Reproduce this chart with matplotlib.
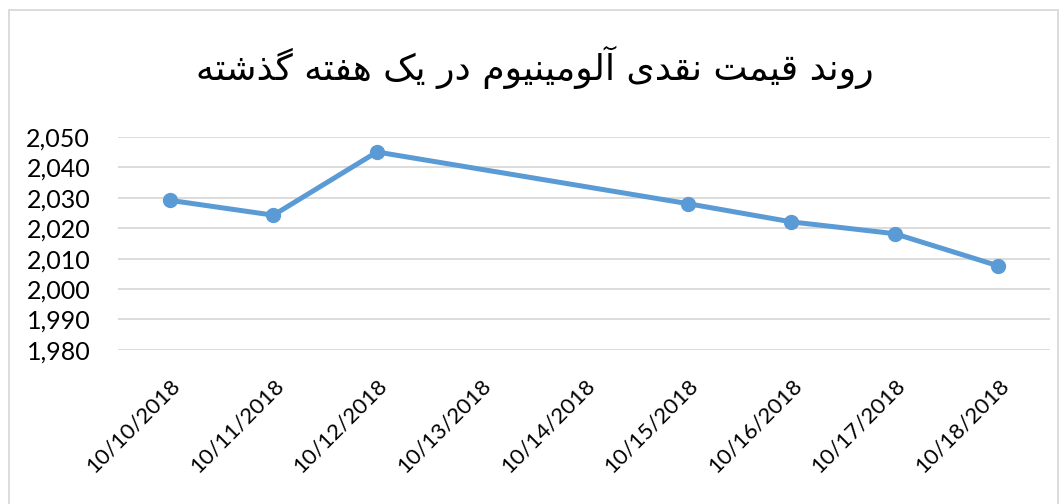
import numpy as np
import matplotlib
matplotlib.use("Agg")
from matplotlib import pyplot as plt
from matplotlib.patches import Rectangle

# data
dates = ["10/10/2018", "10/11/2018", "10/12/2018", "10/13/2018", "10/14/2018",
         "10/15/2018", "10/16/2018", "10/17/2018", "10/18/2018"]
prices = [2029.2, 2024.3, 2045.1, None, None, 2028.1, 2022.1, 2018.2, 2007.6]
yticks = [1980, 1990, 2000, 2010, 2020, 2030, 2040, 2050]

title = "روند قیمت نقدی آلومینیوم در یک هفته گذشته"

# small arabic/persian shaper (matplotlib does not join letters or do RTL)
# letter: (isolated, final, initial, medial) ; two-form letters only join to the right
forms = {
    "ا": ("\uFE8D", "\uFE8E"), "آ": ("\uFE81", "\uFE82"),
    "د": ("\uFEA9", "\uFEAA"), "ذ": ("\uFEAB", "\uFEAC"),
    "ر": ("\uFEAD", "\uFEAE"), "و": ("\uFEED", "\uFEEE"),
    "ت": ("\uFE95", "\uFE96", "\uFE97", "\uFE98"),
    "ش": ("\uFEB5", "\uFEB6", "\uFEB7", "\uFEB8"),
    "ف": ("\uFED1", "\uFED2", "\uFED3", "\uFED4"),
    "ق": ("\uFED5", "\uFED6", "\uFED7", "\uFED8"),
    "ل": ("\uFEDD", "\uFEDE", "\uFEDF", "\uFEE0"),
    "م": ("\uFEE1", "\uFEE2", "\uFEE3", "\uFEE4"),
    "ن": ("\uFEE5", "\uFEE6", "\uFEE7", "\uFEE8"),
    "ه": ("\uFEE9", "\uFEEA", "\uFEEB", "\uFEEC"),
    "ی": ("\uFBFC", "\uFBFD", "\uFBFE", "\uFBFF"),
    "ک": ("\uFB8E", "\uFB8F", "\uFB90", "\uFB91"),
    "گ": ("\uFB92", "\uFB93", "\uFB94", "\uFB95"),
}


def shape(s):
    out = []
    for i, c in enumerate(s):
        if c not in forms:
            out.append(c)
            continue
        prev = s[i - 1] if i > 0 else " "
        nxt = s[i + 1] if i + 1 < len(s) else " "
        join_prev = prev in forms and len(forms[prev]) == 4
        join_next = nxt in forms and len(forms[c]) == 4
        f = forms[c]
        if join_prev and join_next:
            out.append(f[3])
        elif join_prev:
            out.append(f[1])
        elif join_next:
            out.append(f[2])
        else:
            out.append(f[0])
    return "".join(out)[::-1]


plt.rcParams["font.family"] = ["Lato", "DejaVu Sans"]

fig = plt.figure(figsize=(10.63, 5.04), dpi=100)
ax = fig.add_axes([0.111, 0.306, 0.877, 0.422])

x = [i for i, v in enumerate(prices) if v is not None]
y = [v for v in prices if v is not None]
ax.plot(x, y, color="#5B9BD5", linewidth=3.6, marker="o", markersize=10,
        solid_capstyle="round", zorder=3)

ax.set_xlim(-0.5, len(dates) - 0.5)
ax.set_ylim(1980, 2050)
ax.set_yticks(yticks)
ax.set_yticklabels([f"{t:,}" for t in yticks], fontsize=18)
ax.set_xticks(range(len(dates)))
ax.set_xticklabels(dates, rotation=45, ha="right", rotation_mode="anchor", fontsize=16)
ax.tick_params(axis="y", length=0, pad=20)
ax.tick_params(axis="x", length=0, pad=18)
ax.grid(axis="y", color="#D9D9D9", linewidth=1.3)
ax.set_axisbelow(True)
for sp in ax.spines.values():
    sp.set_visible(False)

fig.text(0.503, 0.866, shape(title), ha="center", va="center", fontsize=26,
         family=["DejaVu Sans"])

fig.patches.append(Rectangle((0.008, -0.02), 0.987, 1.0, transform=fig.transFigure,
                             fill=False, edgecolor="#D9D9D9", linewidth=1.3))

fig.savefig("out.png", dpi=100)
